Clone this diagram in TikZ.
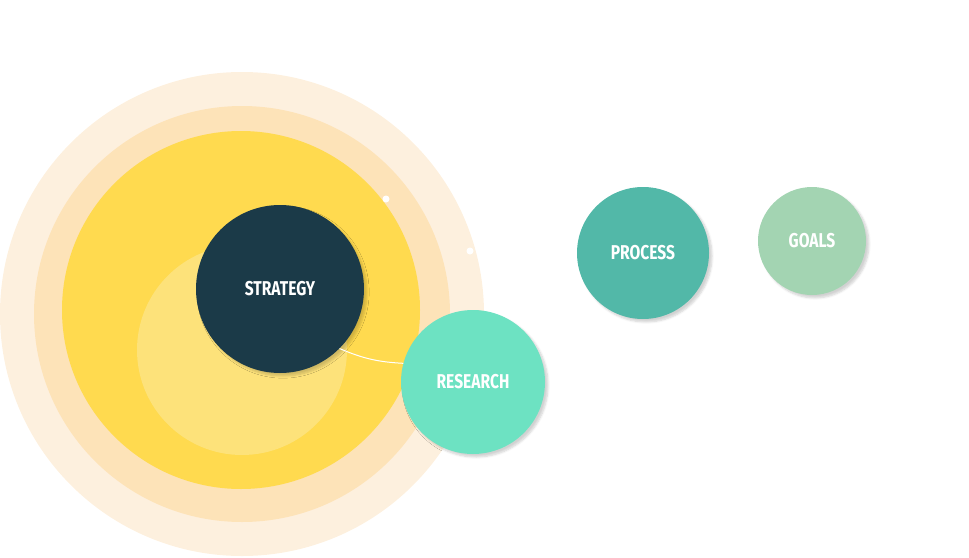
\documentclass[tikz,border=0pt]{standalone}
\usepackage{fontspec}
\setmainfont{Fira Sans}
\usetikzlibrary{shadows,shadows.blur}
\definecolor{c1}{HTML}{FDF0DE}
\definecolor{c2}{HTML}{FDE3B8}
\definecolor{c3}{HTML}{FFDA4F}
\definecolor{c4}{HTML}{FDE27A}
\definecolor{cs}{HTML}{1B3A48}
\definecolor{cr}{HTML}{6DE2C2}
\definecolor{cp}{HTML}{52B8A8}
\definecolor{cg}{HTML}{A3D4B2}
\tikzset{
 disc/.style={circle,inner sep=0pt,minimum size=#1},
 bub/.style={circle,inner sep=0pt,minimum size=#1,blur shadow={shadow xshift=3pt,shadow yshift=-3pt,shadow opacity=18,shadow blur steps=6},text=white,font=\fontsize{20}{22}\selectfont\bfseries},
 dot/.style={circle,fill=white,inner sep=0pt,minimum size=7pt}
}
\newcommand{\cond}[1]{\scalebox{0.78}[1]{#1}}
\begin{document}
\begin{tikzpicture}[x=1pt,y=-1pt]
\useasboundingbox (0,0) rectangle (969,557);
\node[disc=484pt,fill=c1] (o1) at (242,314) {};
\node[disc=416pt,fill=c2] (o2) at (242,314) {};
\node[disc=358pt,fill=c3] (o3) at (241,310) {};
\node[disc=210pt,fill=c4] (o4) at (242,350) {};
\node[dot] (d1) at (386,199) {};
\node[dot] (d2) at (470,251) {};
\node[bub=168pt,fill=cs] (s) at (280,289) {\cond{STRATEGY}};
\node[bub=144pt,fill=cr] (r) at (473,382) {\cond{RESEARCH}};
\node[bub=132pt,fill=cp] (p) at (643,253) {\cond{PROCESS}};
\node[bub=108pt,fill=cg] (g) at (812,241) {\cond{GOALS}};
\draw[white,line width=1pt] (s.-45) to[bend right=10] (r.165);
\end{tikzpicture}
\end{document}
